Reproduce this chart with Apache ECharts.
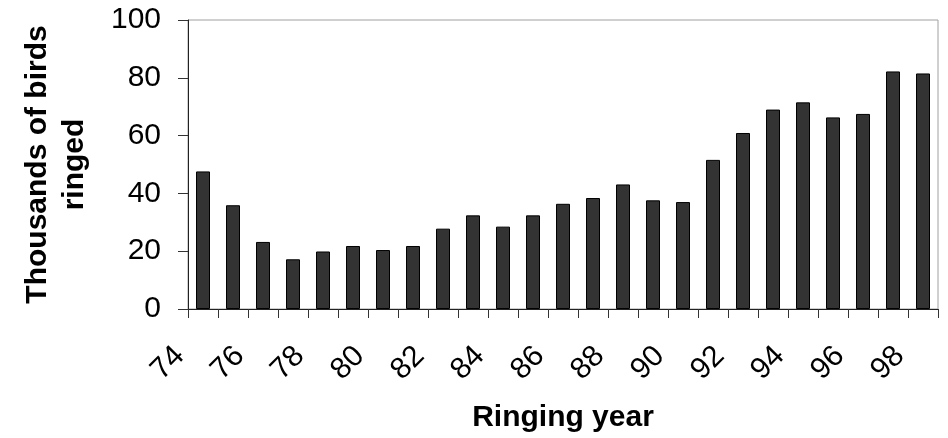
<!DOCTYPE html>
<html>
<head>
<meta charset="utf-8">
<script src="https://cdn.jsdelivr.net/npm/echarts@6/dist/echarts.min.js"></script>
<style>html,body{margin:0;padding:0;background:#fff}#c{width:948px;height:438px}</style>
</head>
<body>
<div id="c"></div>
<script>
var years = ['74','75','76','77','78','79','80','81','82','83','84','85','86','87','88','89','90','91','92','93','94','95','96','97','98'];
var birds = [47.6, 35.9, 23.2, 17.2, 19.9, 21.8, 20.4, 21.8, 27.8, 32.4, 28.5, 32.4, 36.4, 38.4, 43.1, 37.6, 37.0, 51.6, 60.9, 69.0, 71.5, 66.3, 67.5, 82.2, 81.5];
var yTicks = {min: 0, max: 100, interval: 20};
var FONT = 'Liberation Sans, Arial, sans-serif';
var chart = echarts.init(document.getElementById('c'), null, {renderer: 'canvas'});
chart.setOption({
  animation: false,
  backgroundColor: '#fff',
  grid: {left: 188, right: 10, top: 20, bottom: 128, show: true, borderColor: '#a0a0a0', borderWidth: 1},
  xAxis: {
    type: 'category',
    data: years,
    name: 'Ringing year',
    nameLocation: 'middle',
    nameGap: 94,
    nameTextStyle: {fontFamily: FONT, fontSize: 30, fontWeight: 'bold', color: '#000'},
    axisLine: {lineStyle: {color: '#222', width: 1}},
    axisTick: {show: true, interval: 0, length: 9, lineStyle: {color: '#333'}},
    axisLabel: {interval: 1, rotate: 45, margin: 19, padding: [0, 33, 0, 0], fontFamily: FONT, fontSize: 30, color: '#000'},
    splitLine: {show: false}
  },
  yAxis: {
    type: 'value',
    min: yTicks.min, max: yTicks.max, interval: yTicks.interval,
    name: 'Thousands of birds\nringed',
    nameLocation: 'middle',
    nameRotate: 90,
    nameGap: 95,
    nameTextStyle: {fontFamily: FONT, fontSize: 30, fontWeight: 'bold', color: '#000', lineHeight: 37, align: 'center'},
    axisLine: {show: true, lineStyle: {color: '#222', width: 1}},
    axisTick: {show: true, length: 10, lineStyle: {color: '#333'}},
    axisLabel: {margin: 27, fontFamily: FONT, fontSize: 30, color: '#000'},
    splitLine: {show: false}
  },
  series: [{
    type: 'bar',
    data: birds,
    barWidth: 14,
    itemStyle: {color: '#333333', borderColor: '#000', borderWidth: 1}
  }]
});
</script>
</body>
</html>
